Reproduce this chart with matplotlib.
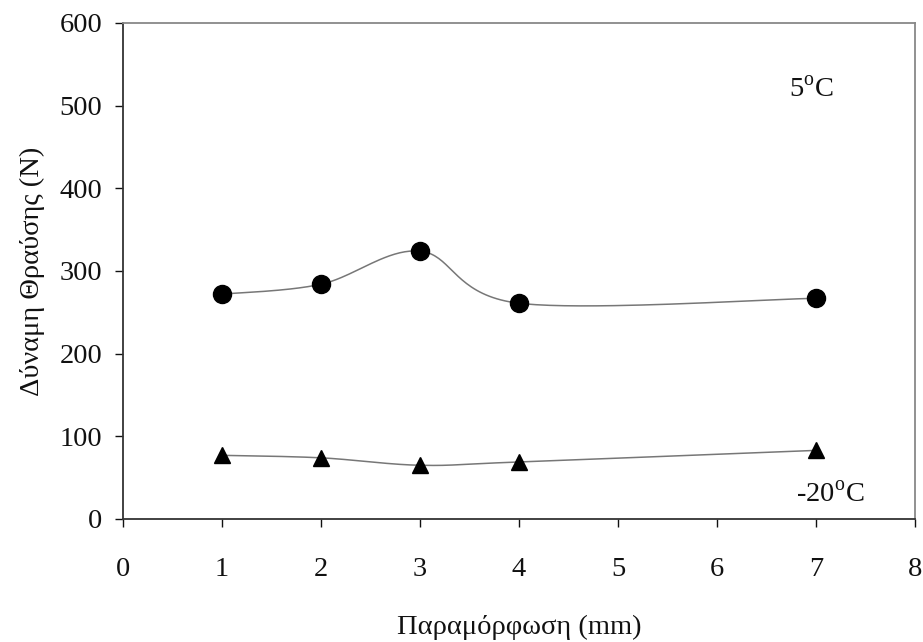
import numpy as np
import matplotlib
matplotlib.use("Agg")
import matplotlib.pyplot as plt

plt.rcParams['font.family'] = ['Liberation Serif', 'DejaVu Serif']
plt.rcParams['mathtext.fontset'] = 'custom'
plt.rcParams['mathtext.rm'] = 'Liberation Serif'

x_vals = [1, 2, 3, 4, 7]
force_5C = [272, 284, 324, 261, 267]
force_m20C = [77, 74, 65, 69, 83]
x_ticks = [0, 1, 2, 3, 4, 5, 6, 7, 8]
y_ticks = [0, 100, 200, 300, 400, 500, 600]


def smooth(xs, ys, n=40):
    # Catmull-Rom style smoothing (similar to spreadsheet smoothed lines)
    xs = np.asarray(xs, float)
    ys = np.asarray(ys, float)
    P = np.column_stack([xs, ys])
    P = np.vstack([P[0], P, P[-1]])
    out = []
    for i in range(1, len(P) - 2):
        p0, p1, p2, p3 = P[i - 1], P[i], P[i + 1], P[i + 2]
        c1 = p1 + (p2 - p0) / 6.0
        c2 = p2 - (p3 - p1) / 6.0
        t = np.linspace(0, 1, n)[:, None]
        seg = ((1 - t) ** 3) * p1 + 3 * ((1 - t) ** 2) * t * c1 + 3 * (1 - t) * t ** 2 * c2 + t ** 3 * p2
        out.append(seg)
    s = np.vstack(out)
    return s[:, 0], s[:, 1]


fig = plt.figure(figsize=(9.23, 6.42), dpi=100)
ax = fig.add_axes([123 / 923, 1 - 519 / 642, (915 - 123) / 923, (519 - 23) / 642])

for ys, mk, ms in [(force_5C, 'o', 13), (force_m20C, '^', 12)]:
    sx, sy = smooth(x_vals, ys)
    ax.plot(sx, sy, color='#777777', lw=1.1, zorder=2)
    ax.plot(x_vals, ys, linestyle='none', marker=mk, ms=ms, color='black', zorder=3)

ax.set_xlim(0, 8)
ax.set_ylim(0, 600)
ax.set_xticks(x_ticks)
ax.set_yticks(y_ticks)
ax.tick_params(direction='out', length=6, width=1, labelsize=20.5, colors='#111111')
ax.tick_params(axis='y', pad=9)
ax.tick_params(axis='x', pad=21)
for side in ['left', 'bottom']:
    ax.spines[side].set_color('#333333')
    ax.spines[side].set_linewidth(1.3)
for side in ['top', 'right']:
    ax.spines[side].set_color('#888888')
    ax.spines[side].set_linewidth(1.3)

ax.set_xlabel('Παραμόρφωση (mm)', fontsize=20.5, labelpad=24, color='#111111')
ax.set_ylabel('Δύναμη Θραύσης (N)', fontsize=20.5, labelpad=10.5, color='#111111')

ax.text(6.95, 519, r'5$^{\mathrm{o}}$C', fontsize=20.5, ha='center', va='center', color='#111111')
ax.text(7.14, 29, r'-20$^{\mathrm{o}}$C', fontsize=20.5, ha='center', va='center', color='#111111')

fig.savefig('out.png', dpi=100, facecolor='white')
